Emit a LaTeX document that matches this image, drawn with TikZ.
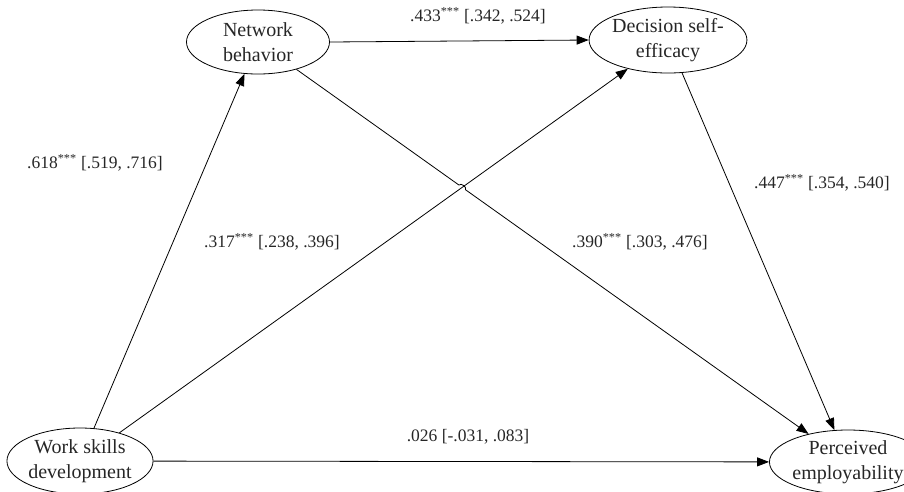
\documentclass[tikz,border=0pt]{standalone}
\usepackage{fontspec}
\setmainfont{Liberation Serif}
\usetikzlibrary{arrows.meta,shapes.geometric,intersections,calc}
\begin{document}
\begin{tikzpicture}[x=1pt,y=-1pt,
  var/.style={draw,ellipse,line width=0.8pt,inner sep=0pt,align=center,font=\fontsize{20}{25}\selectfont,text=black!85},
  arr/.style={line width=0.8pt,-{Triangle[length=12pt,width=9pt]}},
  lab/.style={font=\fontsize{17.5}{20}\selectfont,text=black!85,inner sep=0pt}]
\useasboundingbox (0,0) rectangle (904,491);
\node[var,minimum width=143pt,minimum height=64pt] (nb) at (258,42) {Network\\behavior};
\node[var,minimum width=137pt,minimum height=66pt] (ds) at (668,40) {Decision self-\\efficacy};
\node[var,minimum width=136pt,minimum height=66pt] (ws) at (80,461) {Work skills\\development};
\node[var,minimum width=138pt,minimum height=64pt] (pe) at (848,462) {Perceived\\employability};
\draw[arr] (nb.east) -- (ds.west);
\draw[arr] (ws) -- (nb);
\draw[arr,name path=wd] (ws) -- (ds);
\draw[arr] (ds) -- (pe);
\draw[arr] (ws) -- (pe);
\path[name path=np] (nb) -- (pe);
\path[name intersections={of=wd and np, by=X}];
\draw[arr] (nb) -- ($(X)!4pt!(nb)$) to[bend left=90] ($(X)!4pt!(pe)$) -- (pe);
\node[lab] (l1) at (478,16) {.433\textsuperscript{***} [.342, .524]};
\node[lab] (l2) at (95,163) {.618\textsuperscript{***} [.519, .716]};
\node[lab] (l3) at (272,242) {.317\textsuperscript{***} [.238, .396]};
\node[lab] (l4) at (640,242) {.390\textsuperscript{***} [.303, .476]};
\node[lab] (l5) at (822,183) {.447\textsuperscript{***} [.354, .540]};
\node[lab] (l6) at (468,437) {.026 [-.031, .083]};
\end{tikzpicture}
\end{document}
